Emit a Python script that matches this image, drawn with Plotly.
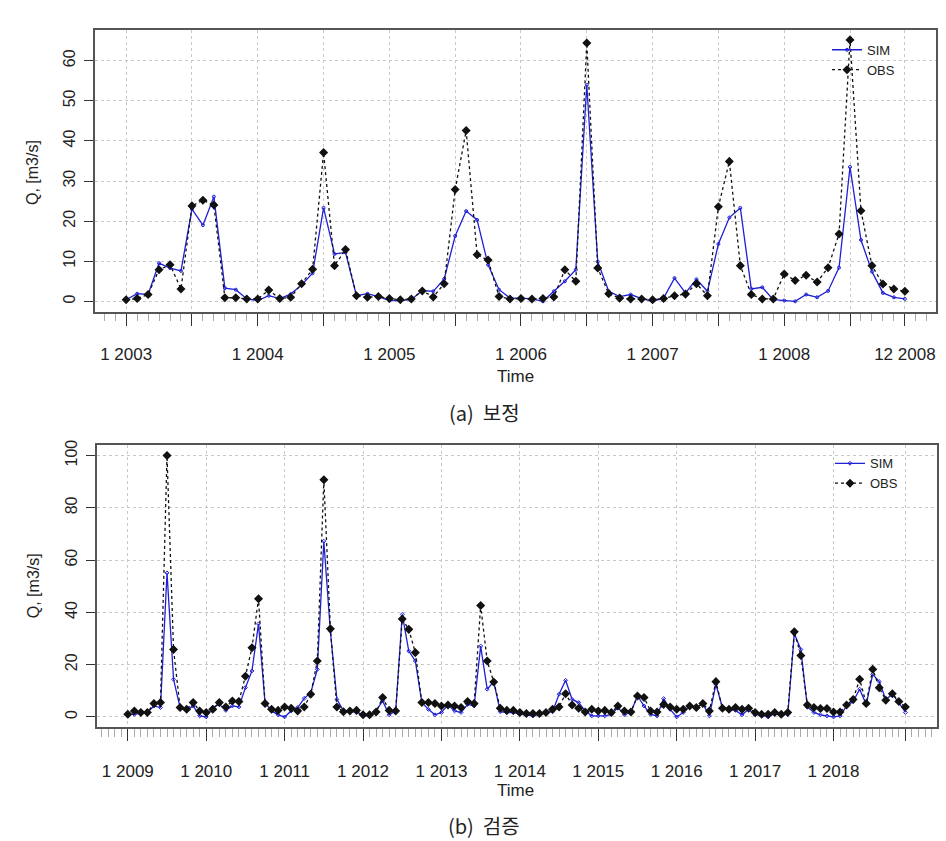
import numpy as np
import plotly.graph_objects as go

# ---------------- data ----------------
# (a) calibration 2003-01 .. 2008-12 (monthly, m3/s)
sim_a = [0.4, 1.9, 1.7, 9.5, 8.3, 7.6, 23.0, 19.0, 26.1, 3.3, 2.9, 0.6,
         0.2, 1.4, 0.7, 1.8, 4.1, 7.0, 23.3, 11.8, 12.2, 1.4, 1.9, 1.2,
         0.2, 0.2, 0.4, 2.7, 2.5, 5.6, 16.3, 22.5, 20.3, 9.1, 2.9, 0.8,
         0.8, 0.6, 0.0, 2.5, 5.0, 7.9, 54.0, 9.9, 2.5, 1.2, 1.7, 0.7,
         0.0, 0.8, 5.8, 2.1, 5.5, 2.5, 14.3, 20.9, 23.3, 3.1, 3.5, 0.4,
         0.2, 0.0, 1.7, 1.0, 2.6, 8.4, 33.5, 15.3, 7.4, 2.1, 1.0, 0.6]
obs_a = [0.4, 0.7, 1.7, 7.9, 9.1, 3.1, 23.8, 25.2, 24.0, 0.9, 0.9, 0.6,
         0.6, 2.8, 0.7, 1.0, 4.4, 8.0, 37.1, 8.9, 12.9, 1.4, 1.0, 1.2,
         0.7, 0.4, 0.6, 2.6, 1.1, 4.4, 27.9, 42.6, 11.6, 10.3, 1.2, 0.6,
         0.7, 0.6, 0.7, 1.1, 7.9, 5.0, 64.4, 8.3, 1.9, 0.8, 0.6, 0.6,
         0.4, 0.7, 1.4, 1.8, 4.4, 1.4, 23.6, 34.9, 8.9, 1.7, 0.6, 0.6,
         6.8, 5.2, 6.5, 4.8, 8.4, 16.8, 65.2, 22.6, 8.9, 4.3, 3.1, 2.5]

# (b) validation 2009-01 .. 2018-12
sim_b = [0.8, 1.0, 1.4, 1.7, 4.2, 3.6, 55.1, 14.4, 3.6, 2.5, 4.2, 0.4,
         0.0, 3.6, 4.8, 2.5, 4.2, 3.8, 11.2, 17.6, 35.6, 5.5, 2.3, 0.8,
         0.0, 2.3, 3.6, 7.1, 9.3, 18.2, 67.2, 32.8, 6.7, 2.3, 1.9, 1.9,
         0.4, 0.4, 2.3, 6.1, 0.8, 2.3, 39.2, 25.2, 21.4, 5.5, 2.9, 0.8,
         1.7, 4.6, 2.3, 1.7, 4.8, 4.2, 27.1, 10.6, 13.5, 2.0, 1.7, 1.7,
         1.0, 0.8, 0.4, 1.0, 1.7, 2.0, 8.7, 14.0, 6.7, 5.5, 2.3, 0.4,
         0.4, 0.4, 1.0, 3.6, 0.8, 1.9, 8.0, 4.2, 1.0, 0.4, 7.0, 2.9,
         0.0, 1.7, 4.2, 3.6, 5.1, 0.4, 12.5, 3.6, 2.9, 2.5, 0.8, 2.9,
         0.8, 0.8, 0.0, 1.3, 0.6, 1.0, 31.8, 25.8, 3.8, 1.7, 0.8, 0.4,
         0.0, 0.4, 4.2, 5.9, 10.6, 4.8, 16.3, 13.5, 6.7, 8.7, 5.5, 1.7]
obs_b = [1.0, 2.3, 1.7, 1.7, 5.1, 5.5, 100.0, 25.8, 3.6, 2.9, 5.5, 2.3,
         1.7, 2.9, 5.5, 3.8, 6.1, 5.9, 15.6, 26.5, 45.2, 5.1, 2.9, 2.5,
         3.8, 3.3, 2.3, 3.8, 8.7, 21.4, 90.7, 33.7, 3.8, 2.0, 2.3, 2.5,
         0.8, 0.8, 1.9, 7.4, 2.5, 2.3, 37.5, 33.5, 24.6, 5.5, 5.5, 5.1,
         4.2, 4.6, 4.2, 3.6, 5.9, 5.1, 42.6, 21.4, 13.4, 3.3, 2.5, 2.5,
         1.7, 1.3, 1.3, 1.3, 1.7, 2.9, 3.8, 8.9, 4.6, 3.3, 1.9, 2.9,
         2.3, 2.5, 1.7, 4.2, 2.3, 1.9, 8.0, 7.4, 2.3, 1.9, 4.8, 3.8,
         2.9, 2.9, 4.2, 3.6, 5.1, 2.3, 13.5, 3.3, 2.9, 3.6, 2.9, 3.3,
         1.7, 1.0, 1.0, 1.7, 1.0, 1.7, 32.6, 23.5, 4.6, 3.6, 3.2, 3.2,
         1.9, 1.9, 4.6, 6.7, 14.4, 5.1, 18.2, 11.2, 6.4, 8.9, 5.9, 3.8]

start_a, start_b = 2003, 2009
tick_a_vals = [2003 + k * 0.5 for k in range(12)] + [2008 + 11 / 12]
tick_a_text = [("1 %d" % int(v)) if abs(v - round(v)) < 1e-9 else "" for v in tick_a_vals[:-1]] + ["12 2008"]
tick_b_vals = [2009 + k for k in range(10)] + [2018 + 11 / 12]
tick_b_text = ["1 %d" % v for v in range(2009, 2019)] + [""]
yticks_a = [0, 10, 20, 30, 40, 50, 60]
yticks_b = [0, 20, 40, 60, 80, 100]

# time axes (decimal years, like an R ts object)
t_a = start_a + np.arange(len(sim_a)) / 12
t_b = start_b + np.arange(len(sim_b)) / 12

# body margin is removed by post_script below, so the figure fills the window
W, H = 946, 841
FONT = "Liberation Sans"
TXT = "#222222"
BLUE = "#1f1fd6"

def px_x(p):  # p = pixel in the window
    return p / W

def px_y(p):
    return 1 - p / H

fig = go.Figure()
fig.add_trace(go.Scatter(x=t_a, y=sim_a, name="SIM", mode="lines+markers",
                         line=dict(color=BLUE, width=1.3),
                         marker=dict(symbol="circle-open", size=3, color=BLUE, line=dict(width=1)),
                         xaxis="x", yaxis="y", legend="legend"))
fig.add_trace(go.Scatter(x=t_a, y=obs_a, name="OBS", mode="lines+markers",
                         line=dict(color="#111111", width=1.3, dash="dot"),
                         marker=dict(symbol="diamond-cross-open", size=5, color="#111111", line=dict(width=1.8)),
                         xaxis="x", yaxis="y", legend="legend"))
fig.add_trace(go.Scatter(x=t_b, y=sim_b, name="SIM", mode="lines+markers",
                         line=dict(color=BLUE, width=1.3),
                         marker=dict(symbol="diamond-open", size=3, color=BLUE, line=dict(width=1)),
                         xaxis="x2", yaxis="y2", legend="legend2"))
fig.add_trace(go.Scatter(x=t_b, y=obs_b, name="OBS", mode="lines+markers",
                         line=dict(color="#111111", width=1.3, dash="dot"),
                         marker=dict(symbol="diamond-cross-open", size=5, color="#111111", line=dict(width=1.8)),
                         xaxis="x2", yaxis="y2", legend="legend2"))

grid = dict(showgrid=True, gridcolor="#c8c8c8", griddash="dot", gridwidth=1, zeroline=False,
            showline=True, linecolor="#555555", linewidth=1.5, mirror=True,
            ticks="outside", tickcolor="#333333", tickwidth=1.2)

xa = dict(grid, domain=[px_x(95), px_x(936)], anchor="y",
          range=[2003 - 2.84 / 12, 2003 + 73.84 / 12],
          tickmode="array", tickvals=tick_a_vals, ticktext=tick_a_text, ticklen=12,
          ticklabelstandoff=14, tickfont=dict(family=FONT, size=17, color=TXT),
          minor=dict(tickmode="linear", tick0=2003, dtick=1 / 12, ticks="outside",
                     ticklen=7, tickcolor="#aaaaaa", tickwidth=1, showgrid=False))
ya = dict(grid, domain=[px_y(309), px_y(25)], anchor="x",
          range=[-2.7, 67.7], tickmode="array", tickvals=yticks_a, ticklen=9,
          tickangle=-90, ticklabelstandoff=3, tickfont=dict(family=FONT, size=16, color=TXT))
xb = dict(grid, domain=[px_x(96.7), px_x(936.5)], anchor="y2",
          range=[2009 - 4.76 / 12, 2009 + 123.76 / 12],
          tickmode="array", tickvals=tick_b_vals, ticktext=tick_b_text, ticklen=12,
          ticklabelstandoff=15, tickfont=dict(family=FONT, size=17, color=TXT),
          minor=dict(tickmode="linear", tick0=2009, dtick=1 / 12, ticks="outside",
                     ticklen=8, tickcolor="#aaaaaa", tickwidth=1, showgrid=False))
yb = dict(grid, domain=[px_y(726.7), px_y(442.7)], anchor="x2",
          range=[-4, 104], tickmode="array", tickvals=yticks_b, ticklen=9,
          tickangle=-90, ticklabelstandoff=3, tickfont=dict(family=FONT, size=16, color=TXT))

annots = []
for cy, ty in [(169, 374), (584.7, 790)]:
    annots.append(dict(text="Q, [m3/s]", x=px_x(33), y=px_y(cy), xref="paper", yref="paper",
                       xanchor="center", yanchor="middle",
                       showarrow=False, textangle=-90, font=dict(family=FONT, size=16, color=TXT)))
    annots.append(dict(text="Time", x=px_x(515.5), y=px_y(ty), xref="paper", yref="paper",
                       xanchor="center", yanchor="middle",
                       showarrow=False, font=dict(family=FONT, size=17, color=TXT)))
CAPF = dict(family="Noto Sans CJK KR, " + FONT, size=20, color=TXT)
annots.append(dict(text="(a)  보정", x=px_x(484), y=px_y(410), xref="paper", yref="paper",
                   xanchor="center", yanchor="middle", showarrow=False, font=CAPF))
annots.append(dict(text="(b)  검증", x=px_x(484), y=px_y(825), xref="paper", yref="paper",
                   xanchor="center", yanchor="middle", showarrow=False, font=CAPF))

leg = dict(bgcolor="rgba(0,0,0,0)", borderwidth=0, xanchor="left", yanchor="top",
           font=dict(family=FONT, size=13, color=TXT), tracegroupgap=0)

fig.update_layout(
    width=W, height=H, margin=dict(l=0, r=0, t=0, b=0),
    paper_bgcolor="white", plot_bgcolor="white",
    xaxis=xa, yaxis=ya, xaxis2=xb, yaxis2=yb,
    annotations=annots,
    legend=dict(leg, x=px_x(827), y=px_y(30)),
    legend2=dict(leg, x=px_x(830), y=px_y(446)),
    showlegend=True,
)

fig.write_html("out.html", config={"displayModeBar": False},
               post_script="document.body.style.margin='0';document.body.style.overflow='hidden';")
